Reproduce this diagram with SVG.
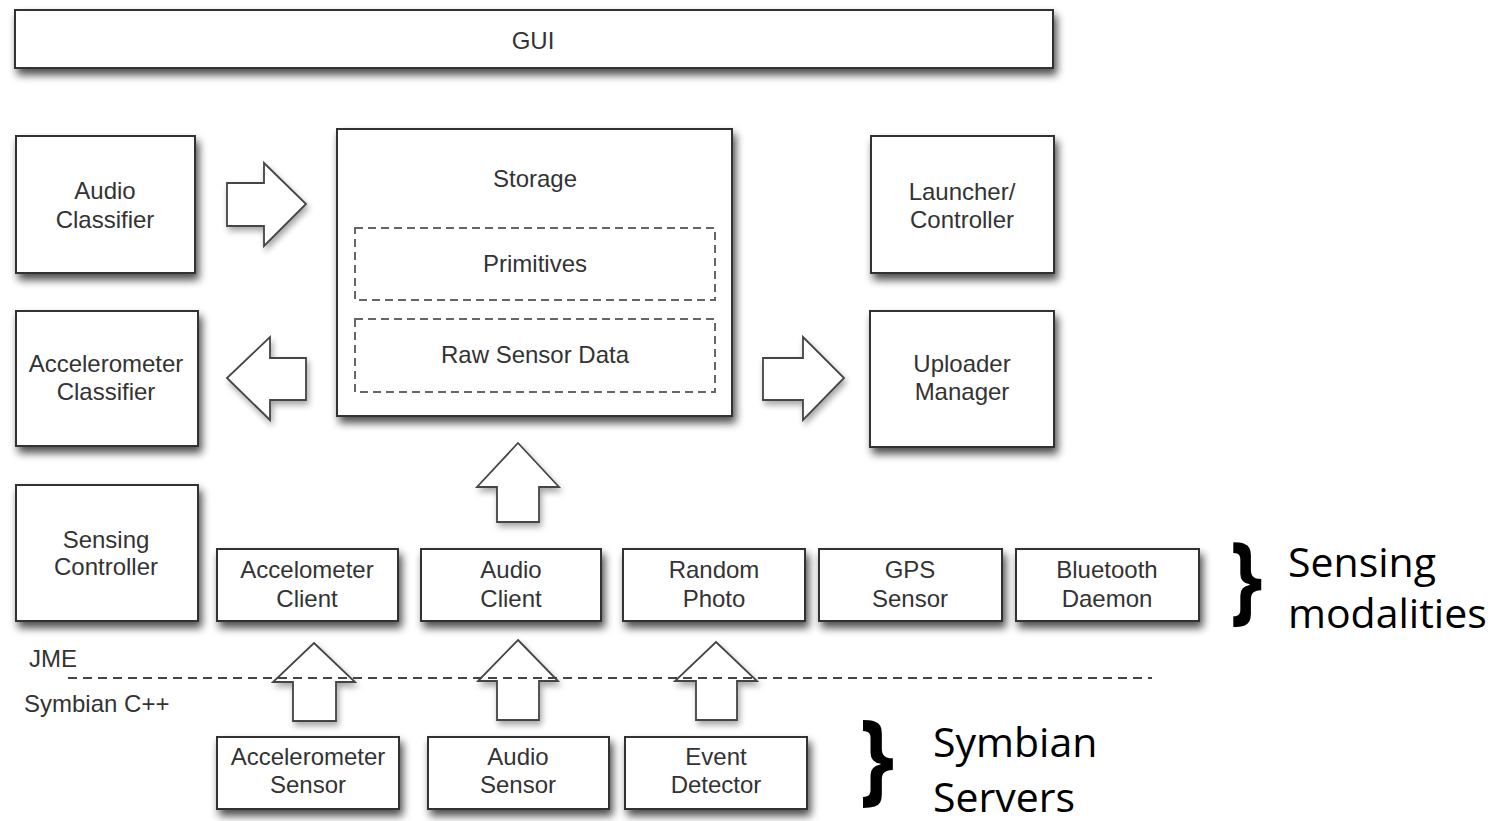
<svg xmlns="http://www.w3.org/2000/svg" width="1502" height="821" viewBox="0 0 1502 821">
<defs>
<filter id="sh" x="-20%" y="-20%" width="150%" height="160%">
<feGaussianBlur in="SourceAlpha" stdDeviation="4"/>
<feOffset dx="3" dy="6" result="b"/>
<feComponentTransfer><feFuncA type="linear" slope="0.7"/></feComponentTransfer>
<feMerge><feMergeNode/><feMergeNode in="SourceGraphic"/></feMerge>
</filter>
<filter id="sh2" x="-20%" y="-20%" width="150%" height="160%">
<feGaussianBlur in="SourceAlpha" stdDeviation="3"/>
<feOffset dx="2" dy="4" result="b"/>
<feComponentTransfer><feFuncA type="linear" slope="0.35"/></feComponentTransfer>
<feMerge><feMergeNode/><feMergeNode in="SourceGraphic"/></feMerge>
</filter>
</defs>
<style>
.box{fill:#fff;stroke:#333;stroke-width:2;filter:url(#sh)}
.dash{fill:none;stroke:#666;stroke-width:2;stroke-dasharray:8 5}
.arr{fill:#fff;stroke:#444;stroke-width:1.8;stroke-linejoin:miter;filter:url(#sh2)}
.t{font-family:"Liberation Sans",Arial,sans-serif;font-size:24px;fill:#333;text-anchor:middle}
.tl{font-family:"Liberation Sans",Arial,sans-serif;font-size:24px;fill:#333}
.big{font-family:"Open Sans",sans-serif;font-size:41px;fill:#000}
.brace{font-family:"Open Sans",sans-serif;font-weight:700;fill:#000}
</style>
<rect width="1502" height="821" fill="#fff"/>

<g id="gui"><rect class="box" x="15" y="10" width="1038" height="58"/><text class="t" x="533" y="49">GUI</text></g>

<g id="audio-classifier"><rect class="box" x="16" y="136" width="179" height="137"/><text class="t" x="105" y="199">Audio</text><text class="t" x="105" y="228">Classifier</text></g>

<g id="storage"><rect class="box" x="337" y="129" width="395" height="287"/><text class="t" x="535" y="187">Storage</text>
<rect class="dash" x="355" y="228" width="360" height="72"/><text class="t" x="535" y="272">Primitives</text>
<rect class="dash" x="355" y="319" width="360" height="73"/><text class="t" x="535" y="363">Raw Sensor Data</text></g>

<g id="launcher"><rect class="box" x="871" y="136" width="183" height="137"/><text class="t" x="962" y="200">Launcher/</text><text class="t" x="962" y="228">Controller</text></g>

<g id="accelerometer-classifier"><rect class="box" x="16" y="311" width="182" height="135"/><text class="t" x="106" y="372">Accelerometer</text><text class="t" x="106" y="400">Classifier</text></g>

<g id="uploader"><rect class="box" x="870" y="311" width="184" height="136"/><text class="t" x="962" y="372">Uploader</text><text class="t" x="962" y="400">Manager</text></g>

<g id="sensing-controller"><rect class="box" x="16" y="485" width="182" height="136"/><text class="t" x="106" y="548">Sensing</text><text class="t" x="106" y="575">Controller</text></g>

<g id="accelometer-client"><rect class="box" x="217" y="549" width="181" height="72"/><text class="t" x="307" y="578">Accelometer</text><text class="t" x="307" y="607">Client</text></g>
<g id="audio-client"><rect class="box" x="421" y="549" width="180" height="72"/><text class="t" x="511" y="578">Audio</text><text class="t" x="511" y="607">Client</text></g>
<g id="random-photo"><rect class="box" x="623" y="549" width="182" height="72"/><text class="t" x="714" y="578">Random</text><text class="t" x="714" y="607">Photo</text></g>
<g id="gps-sensor"><rect class="box" x="819" y="549" width="183" height="72"/><text class="t" x="910" y="578">GPS</text><text class="t" x="910" y="607">Sensor</text></g>
<g id="bluetooth-daemon"><rect class="box" x="1016" y="549" width="183" height="72"/><text class="t" x="1107" y="578">Bluetooth</text><text class="t" x="1107" y="607">Daemon</text></g>

<g id="accelerometer-sensor"><rect class="box" x="217" y="737" width="182" height="72"/><text class="t" x="308" y="765">Accelerometer</text><text class="t" x="308" y="793">Sensor</text></g>
<g id="audio-sensor"><rect class="box" x="428" y="737" width="181" height="72"/><text class="t" x="518" y="765">Audio</text><text class="t" x="518" y="793">Sensor</text></g>
<g id="event-detector"><rect class="box" x="625" y="737" width="182" height="72"/><text class="t" x="716" y="765">Event</text><text class="t" x="716" y="793">Detector</text></g>

<g id="connectors">
<path class="arr" d="M227,183 H264 V163 L306,204 L264,246 V226 H227 Z"/>
<path class="arr" d="M306,358 H270 V337 L227,378 L270,420 V400 H306 Z"/>
<path class="arr" d="M763,358 H803 V337 L844,378 L803,420 V400 H763 Z"/>
<path class="arr" d="M518,443 L559,487 H539 V522 H497 V487 H477 Z"/>
<path class="arr" d="M314,643 L355,682 H336 V721 H293 V682 H273 Z"/>
<path class="arr" d="M518,640 L558,681 H539 V720 H497 V681 H478 Z"/>
<path class="arr" d="M716,642 L757,681 H737 V720 H696 V681 H675 Z"/>
</g>

<g id="layer-divider">
<line x1="68" y1="678" x2="1152" y2="678" stroke="#444" stroke-width="1.8" stroke-dasharray="9 6"/>
<text class="tl" x="29" y="667">JME</text>
<text class="tl" x="24" y="712">Symbian C++</text>
</g>

<g id="sensing-modalities-label">
<text class="brace" transform="translate(1230,612) scale(0.85,1)" x="0" y="0" font-size="97">}</text>
<text class="big" x="1288" y="577">Sensing</text>
<text class="big" x="1288" y="628">modalities</text>
</g>
<g id="symbian-servers-label">
<text class="brace" transform="translate(859.5,792) scale(0.88,1)" x="0" y="0" font-size="100">}</text>
<text class="big" x="933" y="757">Symbian</text>
<text class="big" x="933" y="812">Servers</text>
</g>
</svg>
